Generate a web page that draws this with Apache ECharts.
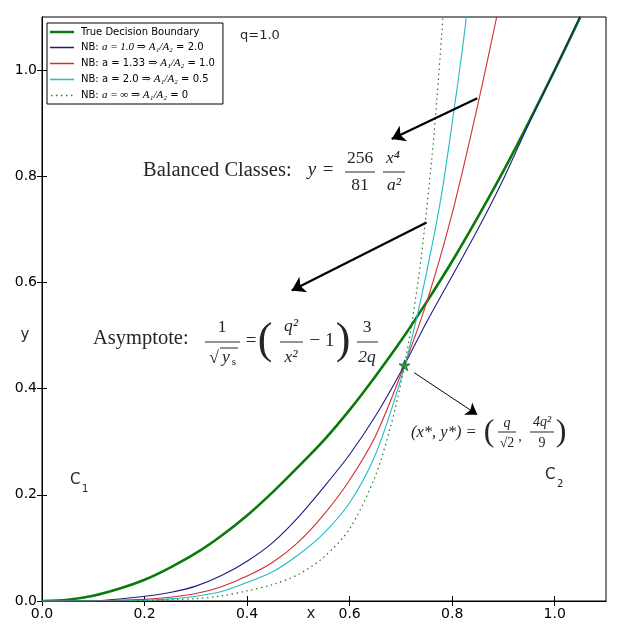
<!DOCTYPE html>
<html>
<head>
<meta charset="utf-8">
<script src="https://cdn.jsdelivr.net/npm/echarts@6/dist/echarts.min.js"></script>
<style>
  html, body { margin: 0; padding: 0; background: #fff; }
  #chart { width: 620px; height: 630px; }
</style>
</head>
<body>
<div id="chart"></div>
<script>
// values
const trueX = [0, 0.05, 0.1, 0.15, 0.2, 0.25, 0.3, 0.35, 0.4, 0.45, 0.5, 0.55, 0.6, 0.65, 0.7, 0.75, 0.8, 0.85, 0.9, 0.95, 1.0, 1.05];
const trueY = [0, 0.0025, 0.01, 0.023, 0.04, 0.063, 0.09, 0.123, 0.161, 0.205, 0.253, 0.303, 0.36, 0.423, 0.49, 0.563, 0.64, 0.723, 0.81, 0.903, 1.0, 1.10];

const nb1X = [0, 0.1, 0.2, 0.25, 0.3, 0.35, 0.4, 0.45, 0.5, 0.55, 0.6, 0.65, 0.7, 0.75, 0.8, 0.85, 0.9, 0.95, 1.0, 1.05];
const nb1Y = [0, 0.0005, 0.009, 0.016, 0.028, 0.048, 0.075, 0.110, 0.158, 0.215, 0.276, 0.348, 0.432, 0.525, 0.612, 0.70, 0.795, 0.90, 1.0, 1.103];

const nb133X = [0, 0.1, 0.2, 0.25, 0.3, 0.35, 0.4, 0.45, 0.5, 0.55, 0.6, 0.65, 0.7, 0.75, 0.8, 0.85, 0.89];
const nb133Y = [0, 0.0002, 0.003, 0.007, 0.014, 0.027, 0.047, 0.073, 0.111, 0.163, 0.228, 0.31, 0.427, 0.562, 0.73, 0.935, 1.115];

const nb2X = [0, 0.1, 0.2, 0.25, 0.3, 0.35, 0.4, 0.45, 0.5, 0.55, 0.6, 0.65, 0.7, 0.73, 0.76, 0.78, 0.8, 0.82, 0.83];
const nb2Y = [0, 0, 0.001, 0.004, 0.009, 0.018, 0.035, 0.055, 0.087, 0.128, 0.185, 0.275, 0.418, 0.53, 0.666, 0.77, 0.9, 1.04, 1.12];

const nbInfX = [0, 0.1, 0.2, 0.3, 0.35, 0.4, 0.45, 0.5, 0.55, 0.6, 0.65, 0.68, 0.7, 0.72, 0.74, 0.76, 0.77, 0.78, 0.79];
const nbInfY = [0, 0, 0.0008, 0.0045, 0.0095, 0.019, 0.031, 0.05, 0.083, 0.136, 0.235, 0.329, 0.41, 0.515, 0.651, 0.831, 0.943, 1.073, 1.226];

const starPoint = [0.707, 0.444];
const tickValues = [0, 0.2, 0.4, 0.6, 0.8, 1.0];
const tickLabels = ['0.0', '0.2', '0.4', '0.6', '0.8', '1.0'];

// annotation arrows, in data units: [from, to]
const arrowBalanced = [[0.849, 0.947], [0.682, 0.870]];
const arrowAsymptote = [[0.750, 0.713], [0.487, 0.585]];
const arrowStar = [[0.726, 0.430], [0.849, 0.351]];

const pair = (xs, ys) => xs.map((x, i) => [x, ys[i]]);

const SERIF = '"Liberation Serif", "DejaVu Serif", serif';
const SANS = '"DejaVu Sans", sans-serif';
const INK = '#262626';

function tx(x, y, s, size, italic, align, family) {
  return {
    type: 'text', x: x, y: y, z: 50,
    style: {
      text: s,
      font: (italic ? 'italic ' : '') + size + 'px ' + (family || SERIF),
      fill: INK,
      align: align || 'center',
      verticalAlign: 'middle'
    }
  };
}
function bar(x1, x2, y) {
  return { type: 'line', z: 50, shape: { x1: x1, y1: y, x2: x2, y2: y }, style: { stroke: INK, lineWidth: 1 } };
}

const graphics = [
  // Balanced Classes: y = 256/81 x^4/a^2
  tx(143, 171, 'Balanced Classes:', 20.5, false, 'left'),
  tx(312, 170, 'y', 19, true),
  tx(328, 170, '=', 19, false),
  tx(360, 158, '256', 17.5, false),
  bar(345, 375, 172),
  tx(360, 185, '81', 17.5, false),
  tx(393, 158, 'x⁴', 17.5, true),
  bar(383, 405, 172),
  tx(394, 185, 'a²', 17.5, true),

  // Asymptote: 1/sqrt(y_s) = (q^2/x^2 - 1) 3/(2q)
  tx(93, 339, 'Asymptote:', 20.5, false, 'left'),
  tx(222, 327, '1', 17.5, false),
  bar(205, 240, 342),
  tx(214, 358, '√', 17.5, false),
  tx(226, 357, 'y', 17.5, true),
  bar(220, 238, 348),
  tx(234, 362, 's', 11, false),
  tx(251, 341, '=', 19, false),
  tx(265, 341, '(', 44, false),
  tx(291, 326, 'q²', 17.5, true),
  bar(280, 303, 342),
  tx(291, 357, 'x²', 17.5, true),
  tx(322, 341, '− 1', 19, false),
  tx(343, 341, ')', 44, false),
  tx(367, 327, '3', 17.5, false),
  bar(357, 378, 342),
  tx(367, 357, '2q', 17.5, true),

  // (x*, y*) = (q/sqrt2, 4q^2/9)
  tx(411, 433, '(x*, y*) =', 16.5, true, 'left'),
  tx(489, 433, '(', 32, false),
  tx(507, 423, 'q', 14, true),
  bar(498, 516, 432),
  tx(507, 443, '√2', 14, false),
  tx(520, 437, ',', 14, false),
  tx(542, 422, '4q²', 14, true),
  bar(530, 554, 432),
  tx(542, 443, '9', 14, false),
  tx(561, 433, ')', 32, false),

  // class labels, q and axis names
  tx(70, 480, 'C', 15, false, 'left', SANS),
  tx(82, 489, '1', 10, false, 'left', SANS),
  tx(545, 475, 'C', 15, false, 'left', SANS),
  tx(557, 484, '2', 10, false, 'left', SANS),
  tx(240, 36, 'q=1.0', 13, false, 'left', SANS),
  tx(311, 614, 'x', 15, false, 'center', SANS),
  tx(25, 335, 'y', 15, false, 'center', SANS)
];

const legendText = {
  'True Decision Boundary': 'True Decision Boundary',
  'NB a=1.0': 'NB: {m|a = 1.0 ⇒ A₁/A₂} = 2.0',
  'NB a=1.33': 'NB: a = 1.33 {m|⇒ A₁/A₂} = 1.0',
  'NB a=2.0': 'NB: a = 2.0 {m|⇒ A₁/A₂} = 0.5',
  'NB a=inf': 'NB: {m|a = ∞ ⇒ A₁/A₂} = 0'
};
// legend line samples, 24x10 box with the stroke in the middle
const BOX = 'M0,0L0.01,0L0.01,0.01Z M23.99,10L24,10L24,9.99Z ';
const iconThick = 'path://' + BOX + 'M0,3.7L24,3.7L24,6.3L0,6.3Z';
const iconThin = 'path://' + BOX + 'M0,4.3L24,4.3L24,5.7L0,5.7Z';
const iconDots = 'path://' + BOX + 'M1,4.3h1.4v1.4h-1.4Z M6,4.3h1.4v1.4h-1.4Z M11,4.3h1.4v1.4h-1.4Z M16,4.3h1.4v1.4h-1.4Z M21,4.3h1.4v1.4h-1.4Z';
const legendIcons = [iconThick, iconThin, iconThin, iconThin, iconDots];

const arrowLine = (a, w) => [
  { coord: a[0], symbol: 'none', lineStyle: { width: w, color: '#000', type: 'solid' } },
  { coord: a[1], symbol: 'arrow', symbolSize: w > 1.5 ? 13 : 11 }
];

const axisCommon = {
  type: 'value', min: 0, max: 1.1, interval: 0.2,
  axisLine: { show: true, lineStyle: { color: '#000' } },
  axisTick: { show: true, inside: true, length: 5, customValues: tickValues, lineStyle: { color: '#000' } },
  splitLine: { show: false }
};
const labelCommon = {
  customValues: tickValues, color: '#000', fontFamily: SANS, fontSize: 14,
  formatter: v => tickLabels[Math.round(v / 0.2)] || ''
};

let myChart = echarts.init(document.getElementById('chart'), null, { renderer: 'canvas' });
let option = {
  backgroundColor: '#fff',
  animation: false,
  grid: {
    left: 42, right: 14, top: 17, bottom: 29,
    show: true, borderColor: '#000', borderWidth: 1
  },
  legend: {
    orient: 'vertical',
    left: 47, top: 23,
    padding: [4, 8, 3, 3],
    itemGap: 5,
    itemWidth: 24, itemHeight: 10,
    backgroundColor: '#fff',
    borderColor: '#000', borderWidth: 1,
    data: Object.keys(legendText).map((n, i) => ({ name: n, icon: legendIcons[i] })),
    formatter: name => legendText[name],
    textStyle: {
      fontFamily: SANS, fontSize: 10, color: '#000', padding: [0, 0, 0, 2],
      rich: { m: { fontFamily: SERIF, fontStyle: 'italic', fontSize: 11, color: '#000' } }
    }
  },
  xAxis: [
    Object.assign({}, axisCommon, { position: 'bottom', axisLabel: Object.assign({ margin: 6 }, labelCommon) }),
    Object.assign({}, axisCommon, { position: 'top', axisLabel: { show: false } })
  ],
  yAxis: [
    Object.assign({}, axisCommon, { position: 'left', axisLabel: Object.assign({ margin: 5 }, labelCommon) }),
    Object.assign({}, axisCommon, { position: 'right', axisLabel: { show: false } })
  ],
  graphic: graphics,
  series: [
    {
      name: 'True Decision Boundary', type: 'line', data: pair(trueX, trueY),
      smooth: 0.3, symbol: 'none', showSymbol: false, color: '#0a7a0a',
      lineStyle: { width: 2.6, color: '#0a7a0a' }, z: 3
    },
    {
      name: 'NB a=1.0', type: 'line', data: pair(nb1X, nb1Y),
      smooth: 0.3, symbol: 'none', showSymbol: false, color: '#1c1c86',
      lineStyle: { width: 1.1, color: '#1c1c86' }, z: 4
    },
    {
      name: 'NB a=1.33', type: 'line', data: pair(nb133X, nb133Y),
      smooth: 0.3, symbol: 'none', showSymbol: false, color: '#d03030',
      lineStyle: { width: 1.1, color: '#d03030' }, z: 4
    },
    {
      name: 'NB a=2.0', type: 'line', data: pair(nb2X, nb2Y),
      smooth: 0.3, symbol: 'none', showSymbol: false, color: '#22bcc4',
      lineStyle: { width: 1.1, color: '#22bcc4' }, z: 4
    },
    {
      name: 'NB a=inf', type: 'line', data: pair(nbInfX, nbInfY),
      smooth: 0.3, symbol: 'none', showSymbol: false, color: '#237a23',
      lineStyle: { width: 1.2, color: '#237a23', type: [1.5, 3.5] }, z: 4
    },
    {
      name: 'star', type: 'scatter', data: [starPoint],
      symbol: 'path://M50,0 L61,35 L98,35 L68,57 L79,91 L50,70 L21,91 L32,57 L2,35 L39,35 Z',
      symbolSize: 11,
      itemStyle: { color: '#1f8a2a', borderColor: '#0b3d12', borderWidth: 0.8 },
      z: 6, silent: true,
      markLine: {
        silent: true, animation: false,
        symbol: ['none', 'arrow'],
        symbolSize: 12,
        itemStyle: { color: '#000' },
        label: { show: false },
        data: [
          arrowLine(arrowBalanced, 2.2),
          arrowLine(arrowAsymptote, 2.2),
          arrowLine(arrowStar, 1)
        ]
      }
    }
  ]
};
myChart.setOption(option);
</script>
</body>
</html>
